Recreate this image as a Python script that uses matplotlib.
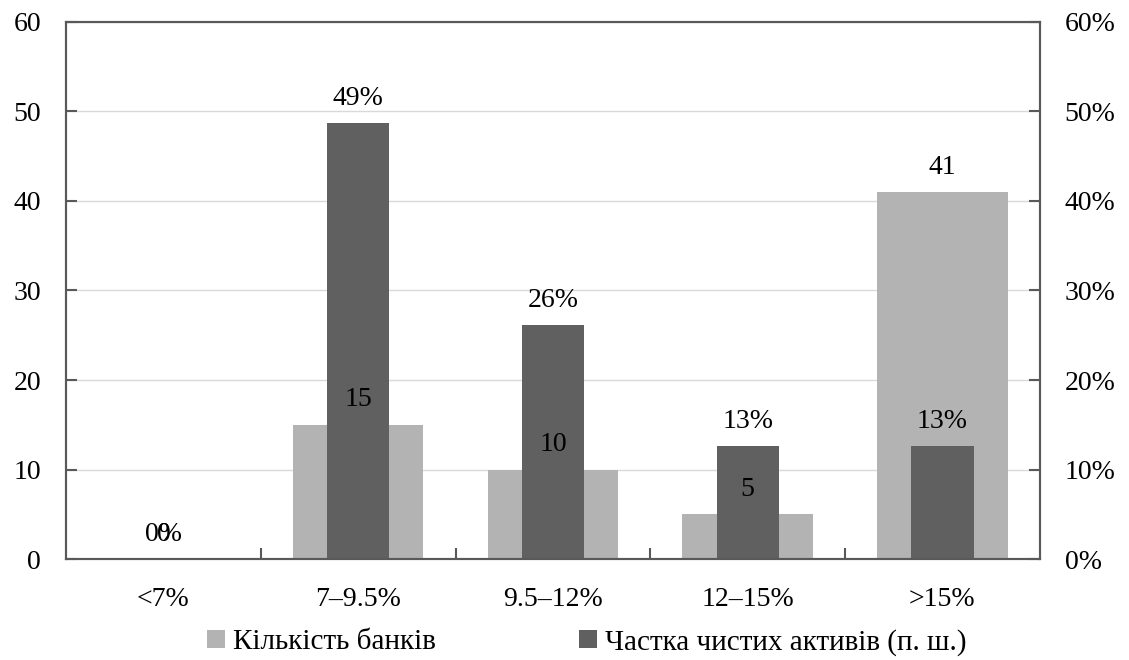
import matplotlib
matplotlib.use('Agg')
import matplotlib.pyplot as plt
import numpy as np

plt.rcParams['font.family'] = ['Liberation Serif', 'DejaVu Serif']

# Дані: кількість банків та частка чистих активів за групами
categories = ['<7%', '7–9.5%', '9.5–12%', '12–15%', '>15%']
bank_counts = [0, 15, 10, 5, 41]
asset_share = [0.0, 48.7, 26.1, 12.6, 12.6]  # у відсотках

light = '#B3B3B3'
dark = '#606060'
spine_col = '#595959'
fs = 20

fig = plt.figure(figsize=(11.29, 6.6), dpi=100)
ax = fig.add_axes([0.0585, 0.153, 0.8625, 0.8137])
ax2 = ax.twinx()

x = np.arange(len(categories))
bars1 = ax.bar(x, bank_counts, width=0.67, color=light, zorder=2)
bars2 = ax2.bar(x, asset_share, width=0.32, color=dark, zorder=2)

ax.set_xlim(-0.5, len(categories) - 0.5)
ax.set_ylim(0, 60)
ax2.set_ylim(0, 60)
ax.set_yticks(range(0, 61, 10))
ax2.set_yticks(range(0, 61, 10))
ax2.set_yticklabels([f'{v}%' for v in range(0, 61, 10)])

ax.set_xticks(x)
ax.set_xticklabels(categories)
ax.set_xticks(x[:-1] + 0.5, minor=True)
ax.tick_params(axis='x', which='major', length=0, pad=20, labelsize=fs)
ax.tick_params(axis='x', which='minor', direction='in', length=8, color=spine_col, width=1.5)
ax.tick_params(axis='y', direction='in', length=8, color=spine_col, width=1.5, labelsize=fs, pad=18)
ax2.tick_params(axis='y', direction='in', length=8, color=spine_col, width=1.5, labelsize=fs, pad=18)

ax.grid(axis='y', color='#D9D9D9', linewidth=1, zorder=0)
ax.set_axisbelow(True)
for a in (ax, ax2):
    for s in a.spines.values():
        s.set_color(spine_col)
        s.set_linewidth(1.5)

# Підписи значень
for b, v in zip(bars2, asset_share):
    ax2.annotate(f'{v:.0f}%', (b.get_x() + b.get_width() / 2, v), xytext=(0, 9),
                 textcoords='offset points', ha='center', va='bottom', fontsize=fs, zorder=5)
for b, v in zip(bars1, bank_counts):
    ax2.annotate(f'{v}', (b.get_x() + b.get_width() / 2, v), xytext=(0, 9),
                 textcoords='offset points', ha='center', va='bottom', fontsize=fs, zorder=5)

fig.legend([bars1, bars2], ['Кількість банків', 'Частка чистих активів (п. ш.)'],
           loc='center', bbox_to_anchor=(0.52, 0.027), ncol=2, frameon=False,
           fontsize=21, handlelength=0.6, handleheight=0.6, handletextpad=0.3,
           columnspacing=4.9)

fig.savefig('out.png', dpi=100)
